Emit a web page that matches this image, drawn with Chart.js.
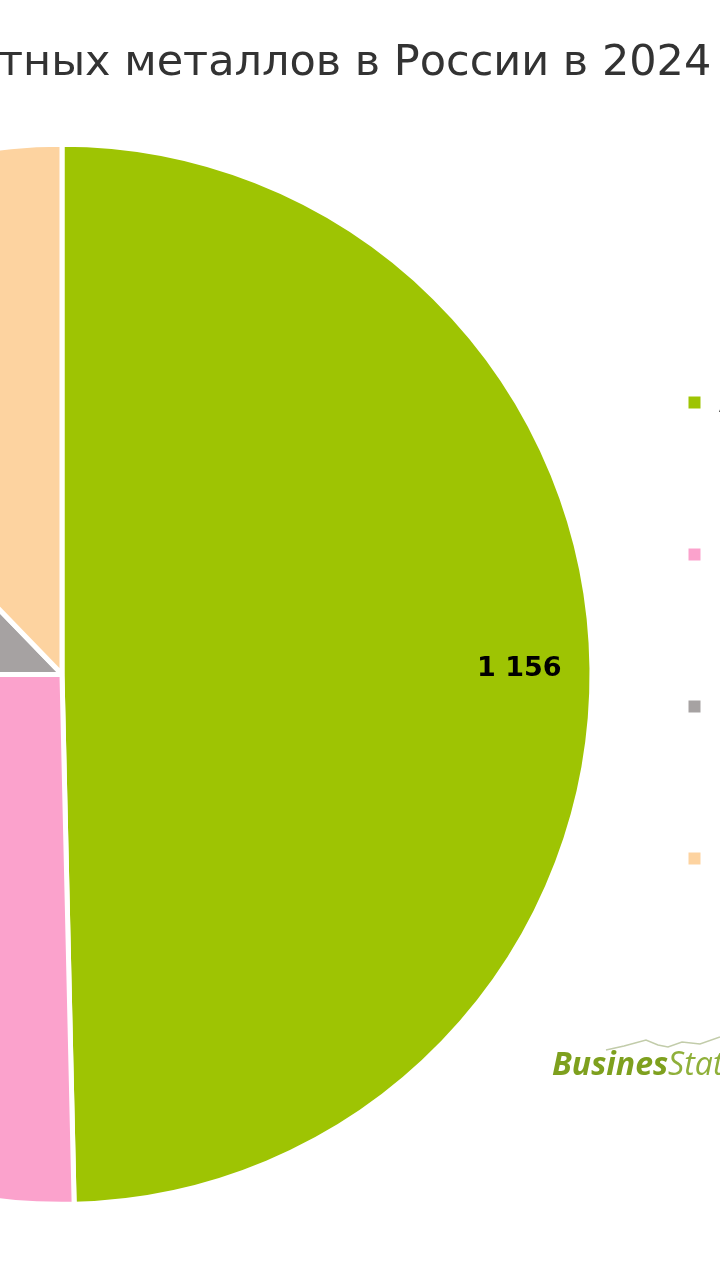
<!DOCTYPE html>
<html lang="ru">
<head>
<meta charset="utf-8">
<script src="https://cdn.jsdelivr.net/npm/chart.js@4.4.1/dist/chart.umd.min.js"></script>
<style>
  html, body { margin: 0; padding: 0; background: #ffffff; width: 720px; height: 1280px; overflow: hidden; }
  #wrap { position: absolute; left: -442px; top: 0; width: 1230px; height: 1280px; }
  #logo { position: absolute; left: 552px; top: 1041px; font-family: "Open Sans", sans-serif; font-style: italic; font-size: 32px; color: #7ea01e; white-space: nowrap; letter-spacing: 0px; }
  #logo b { font-weight: 700; }
  #logo span { font-weight: 400; color: #8fb03a; }
  #ridge { position: absolute; left: 0; top: 0; }
</style>
</head>
<body>
<div id="wrap"><canvas id="c"></canvas></div>
<svg id="ridge" width="720" height="1280"><polyline points="606,1050 624,1046 646,1040 658,1045 668,1047 682,1042 700,1044 720,1037" fill="none" stroke="#c2ccaa" stroke-width="1.5"/></svg>
<div id="logo"><b>Busines</b><span>Stat</span></div>
<script>
const titleText = "Производство цветных металлов в России в 2024 г.";
const categories = ["Алюминий", "Медь", "Никель", "Прочие"];
const values = [1156, 590, 298, 285];
const colors = ["#9ec403", "#fba2cc", "#a6a2a2", "#fdd3a0"];

function fmt(v) {
  return String(v).replace(/\B(?=(\d{3})+(?!\d))/g, " ");
}

const sliceLabels = {
  id: "sliceLabels",
  afterDatasetsDraw(chart) {
    const ctx = chart.ctx;
    const meta = chart.getDatasetMeta(0);
    ctx.save();
    ctx.font = "bold 27px 'DejaVu Sans'";
    ctx.fillStyle = "#000000";
    ctx.textAlign = "center";
    ctx.textBaseline = "middle";
    meta.data.forEach((arc, i) => {
      const p = arc.getProps(["x", "y", "startAngle", "endAngle", "outerRadius"], true);
      const mid = (p.startAngle + p.endAngle) / 2;
      const r = p.outerRadius * 0.863;
      ctx.fillText(fmt(values[i]), p.x + Math.cos(mid) * r, p.y + Math.sin(mid) * r);
    });
    ctx.restore();
  }
};

new Chart(document.getElementById("c"), {
  type: "pie",
  data: {
    labels: categories,
    datasets: [{
      data: values,
      backgroundColor: colors,
      borderColor: "#ffffff",
      borderWidth: 5,
      radius: 530
    }]
  },
  options: {
    responsive: true,
    maintainAspectRatio: false,
    animation: false,
    layout: { padding: { top: 0, left: 0, right: 0, bottom: 80 } },
    plugins: {
      title: {
        display: true,
        text: titleText,
        color: "#333333",
        font: { family: "'DejaVu Sans'", size: 43, weight: "normal" },
        padding: { top: 38, bottom: 59 }
      },
      legend: {
        display: true,
        position: "right",
        align: "start",
        maxWidth: 222,
        title: { display: true, text: "", padding: { top: 0, bottom: 252.1 }, font: { size: 12 } },
        labels: {
          boxWidth: 17,
          boxHeight: 17,
          padding: 120,
          color: "#404040",
          font: { family: "'Open Sans'", size: 32 }
        }
      },
      tooltip: { enabled: false }
    }
  },
  plugins: [sliceLabels]
});
</script>
</body>
</html>
